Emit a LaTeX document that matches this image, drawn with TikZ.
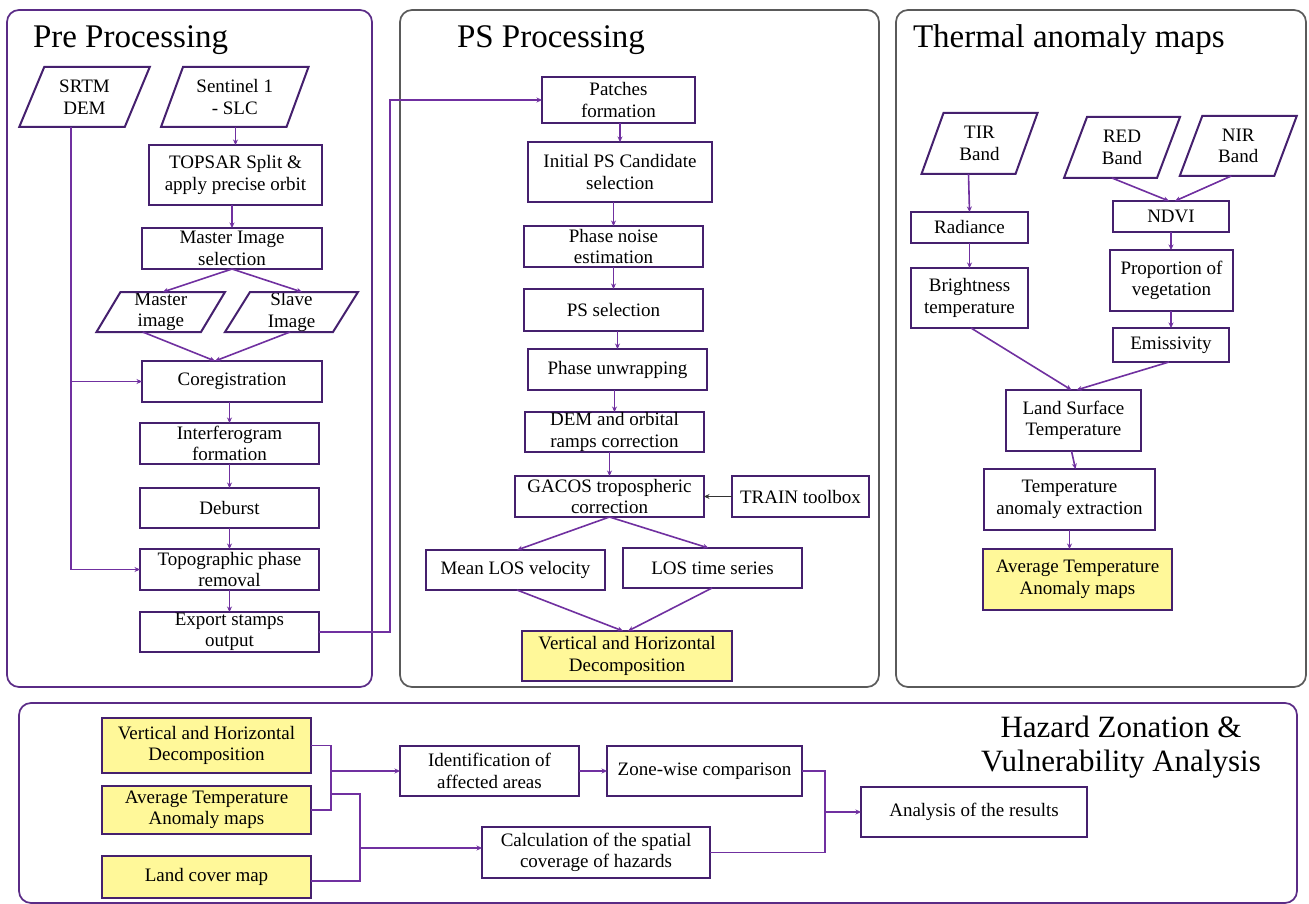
\documentclass[tikz,border=0pt]{standalone}
\usepackage{fontspec}
\setmainfont{Liberation Serif}
\usetikzlibrary{arrows.meta,calc}
\definecolor{boxc}{HTML}{45206E}
\definecolor{linec}{HTML}{7030A0}
\definecolor{panelp}{HTML}{5A2B86}
\definecolor{panelg}{HTML}{5A5A5A}
\definecolor{yel}{HTML}{FFF899}
\newcommand\drawparallel[2]{\draw[boxline] ([xshift=-#2pt]#1.south west) -- ([xshift=-#2pt]#1.south east) -- ([xshift=#2pt]#1.north east) -- ([xshift=#2pt]#1.north west) -- cycle;}
\begin{document}
\begin{tikzpicture}[x=1pt,y=-1pt,
 every node/.style={inner sep=0pt, outer sep=0pt, align=center, font=\fontsize{19}{21.5}\selectfont},
 boxline/.style={draw=boxc, line width=2pt, line join=miter},
 procbox/.style 2 args={boxline, fill=white, minimum width=#1, minimum height=#2},
 hibox/.style 2 args={procbox={#1}{#2}, fill=yel},
 paranode/.style 2 args={minimum width=#1, minimum height=#2},
 conn/.style={draw=linec, line width=1.6pt, -{Stealth[length=5.5pt,width=5pt]}},
 plain/.style={draw=linec, line width=1.6pt},
 panel/.style={line width=1.7pt, rounded corners=12pt},
 ptitle/.style={font=\fontsize{33}{38}\selectfont, anchor=base west}
]
\useasboundingbox (0,0) rectangle (1309,904);
\fill[white] (0,0) rectangle (1309,904);

% panels
\draw[panel, draw=panelp] (7,10) rectangle (372,687);
\draw[panel, draw=panelg] (400,10) rectangle (879,687);
\draw[panel, draw=panelg] (896,10) rectangle (1306,687);
\draw[panel, draw=panelp] (19,703) rectangle (1297,903);

% titles
\node[ptitle] (t1) at (33,48) {Pre Processing};
\node[ptitle] (t2) at (457,48) {PS Processing};
\node[ptitle] (t3) at (913,48) {Thermal anomaly maps};
\node[font=\fontsize{31}{34}\selectfont] (t4) at (1121,747) {Hazard Zonation \&\\Vulnerability Analysis};

% ---------- Pre Processing ----------
\node[paranode={105.5pt}{60pt}] (srtm) at (84.5,97) {SRTM\\DEM};
\drawparallel{srtm}{12.5}
\node[paranode={125.5pt}{60pt}] (sent) at (234.75,97) {Sentinel 1\\- SLC};
\drawparallel{sent}{11}
\node[procbox={173pt}{60pt}] (topsar) at (235.5,175) {TOPSAR Split \&\\apply precise orbit};
\node[procbox={180pt}{41pt}] (msel) at (232,248.5) {Master Image\\selection};
\node[paranode={104.5pt}{40pt}] (mimg) at (160.75,312) {Master\\image};
\drawparallel{mimg}{12}
\node[paranode={108pt}{40pt}] (simg) at (291.5,312) {Slave\\Image};
\drawparallel{simg}{12.5}
\node[procbox={180pt}{41pt}] (coreg) at (232,381.5) {Coregistration};
\node[procbox={179pt}{41pt}] (interf) at (229.5,443.5) {Interferogram\\formation};
\node[procbox={179pt}{40pt}] (deburst) at (229.5,508) {Deburst};
\node[procbox={179pt}{41pt}] (topo) at (229.5,569.5) {Topographic phase\\removal};
\node[procbox={179pt}{40pt}] (export) at (229.5,632) {Export stamps\\output};

\draw[conn] (topsar.north |- sent.south) -- (topsar.north);
\draw[conn] (msel.north |- topsar.south) -- (msel.north);
\draw[conn] (msel.south) -- ([xshift=2pt]mimg.north);
\draw[conn] (msel.south) -- ([xshift=10.5pt]simg.north);
\draw[conn] ([xshift=-18pt]mimg.south) -- ([xshift=-17pt]coreg.north);
\draw[conn] ([xshift=-1.5pt]simg.south) -- ([xshift=-17pt]coreg.north);
\draw[conn] (interf.north |- coreg.south) -- (interf.north);
\draw[conn] (deburst.north |- interf.south) -- (deburst.north);
\draw[conn] (topo.north |- deburst.south) -- (topo.north);
\draw[conn] (export.north |- topo.south) -- (export.north);
\coordinate (srtmout) at ([xshift=-13.5pt]srtm.south);
\draw[conn] (srtmout) |- (topo.west);
\draw[conn] (srtmout |- coreg.west) -- (coreg.west);

% ---------- PS Processing ----------
\node[procbox={153pt}{46pt}] (patches) at (618.5,100) {Patches\\formation};
\node[procbox={184pt}{60pt}] (initps) at (620,172) {Initial PS Candidate\\selection};
\node[procbox={179pt}{41pt}] (noise) at (613.5,246.5) {Phase noise\\estimation};
\node[procbox={179pt}{42pt}] (pssel) at (613.5,310) {PS selection};
\node[procbox={179pt}{41pt}] (unwrap) at (617.5,369.5) {Phase unwrapping};
\node[procbox={179pt}{40pt}] (demorb) at (614.5,432) {DEM and orbital\\ramps correction};
\node[procbox={189pt}{41pt}] (gacos) at (609.5,496.5) {GACOS tropospheric\\correction};
\node[procbox={137pt}{41pt}] (train) at (800.5,496.5) {TRAIN toolbox};
\node[procbox={179pt}{40pt}] (meanlos) at (515.5,570) {Mean LOS velocity};
\node[procbox={179pt}{40pt}] (lost) at (712.5,568) {LOS time series};
\node[hibox={210pt}{50pt}] (vh) at (627,656) {Vertical and Horizontal\\Decomposition};

\draw[conn] (export.east) -- ++(71,0) |- (patches.west);
\draw[conn] (initps.north |- patches.south) -- (initps.north);
\draw[conn] (noise.north |- initps.south) -- (noise.north);
\draw[conn] (pssel.north |- noise.south) -- (pssel.north);
\draw[conn] (unwrap.north |- pssel.south) -- (unwrap.north);
\draw[conn] (demorb.north |- unwrap.south) -- (demorb.north);
\draw[conn] (gacos.north |- demorb.south) -- (gacos.north);
\draw[draw=black!80, line width=1.6pt, -{Stealth[length=5.5pt,width=5pt]}] (train.west) -- (gacos.east);
\draw[conn] (gacos.south) -- ([xshift=1.5pt]meanlos.north);
\draw[conn] (gacos.south) -- ([xshift=-4pt]lost.north);
\draw[conn] ([xshift=1.5pt]meanlos.south) -- ([xshift=-4pt]vh.north);
\draw[conn] ([xshift=-0.5pt]lost.south) -- ([xshift=1pt]vh.north);

% ---------- Thermal ----------
\node[paranode={94pt}{61pt}] (tir) at (979.5,143.5) {TIR\\Band};
\drawparallel{tir}{11}
\node[paranode={93pt}{61pt}] (red) at (1122,147.5) {RED\\Band};
\drawparallel{red}{11.5}
\node[paranode={94.5pt}{60pt}] (nir) at (1238.25,146) {NIR\\Band};
\drawparallel{nir}{11.25}
\node[procbox={117pt}{31pt}] (rad) at (969.5,227.5) {Radiance};
\node[procbox={117pt}{60pt}] (bright) at (969.5,298) {Brightness\\temperature};
\node[procbox={116pt}{31pt}] (ndvi) at (1171,216.5) {NDVI};
\node[procbox={123pt}{61pt}] (prop) at (1171.5,280.5) {Proportion of\\vegetation};
\node[procbox={116pt}{34pt}] (emis) at (1171,345) {Emissivity};
\node[procbox={135pt}{61pt}] (lst) at (1073.5,420.5) {Land Surface\\Temperature};
\node[procbox={171pt}{61pt}] (tae) at (1069.5,499.5) {Temperature\\anomaly extraction};
\node[hibox={189pt}{61pt}] (atam) at (1077.5,579.5) {Average Temperature\\Anomaly maps};

\draw[conn] ([xshift=-11pt]tir.south) -- (rad.north);
\draw[conn] (rad.south) -- (bright.north);
\draw[conn] ([xshift=-10pt]red.south) -- ([xshift=-2pt]ndvi.north);
\draw[conn] ([xshift=-7pt]nir.south) -- ([xshift=4pt]ndvi.north);
\draw[conn] (ndvi.south) -- (ndvi.south |- prop.north);
\draw[conn] (ndvi.south |- prop.south) -- (emis.north);
\draw[conn] ([xshift=1.5pt]bright.south) -- ([xshift=-2pt]lst.north);
\draw[conn] ([xshift=-2pt]emis.south) -- ([xshift=3pt]lst.north);
\draw[conn] ([xshift=-2pt]lst.south) -- ([xshift=2pt]lst.south |- tae.north);
\draw[conn] (tae.south) -- (tae.south |- atam.north);

% ---------- Hazard ----------
\node[hibox={209pt}{55pt}] (hvh) at (206.5,745.5) {Vertical and Horizontal\\Decomposition};
\node[hibox={209pt}{48pt}] (hatam) at (206.5,810) {Average Temperature\\Anomaly maps};
\node[hibox={209pt}{42pt}] (land) at (206.5,877) {Land cover map};
\node[procbox={179pt}{50pt}] (ident) at (489.5,771) {Identification of\\affected areas};
\node[procbox={195pt}{50pt}] (zone) at (704.5,771) {Zone-wise comparison};
\node[procbox={228pt}{51pt}] (calc) at (596,852.5) {Calculation of the spatial\\coverage of hazards};
\node[procbox={226pt}{50pt}] (ana) at (974,812) {Analysis of the results};

\coordinate (j1) at (331,771);
\coordinate (j2) at (331,794);
\coordinate (j3) at (360,848);
\coordinate (j4) at (825,812);
\draw[plain] (hvh.east) -| (j1) |- (hatam.east);
\draw[conn] (j1) -- (ident.west);
\draw[plain] (j2) -| (j3) |- ([yshift=-4pt]land.east);
\draw[conn] (j3) -- (j3 -| calc.west);
\draw[conn] (ident.east) -- (zone.west);
\draw[plain] (zone.east) -| (j4) |- (calc.east);
\draw[conn] (j4) -- (ana.west);
\end{tikzpicture}
\end{document}
